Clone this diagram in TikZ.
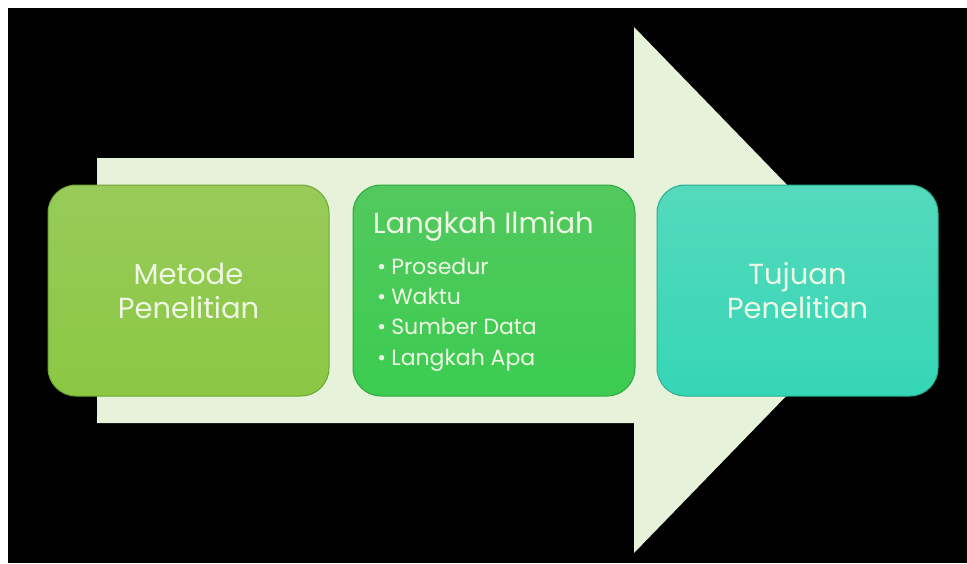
\documentclass[tikz,border=0pt]{standalone}
\usepackage{fontspec}
\setmainfont{Poppins}
\definecolor{arrowfill}{HTML}{E6F3DA}
\definecolor{boxAtop}{HTML}{98CB5A}
\definecolor{boxAbot}{HTML}{8BC843}
\definecolor{boxAline}{HTML}{6FA536}
\definecolor{boxBtop}{HTML}{52C95E}
\definecolor{boxBbot}{HTML}{3CCC51}
\definecolor{boxBline}{HTML}{2FA640}
\definecolor{boxCtop}{HTML}{55D9BC}
\definecolor{boxCbot}{HTML}{35D6B6}
\definecolor{boxCline}{HTML}{27AD92}
\definecolor{txt}{HTML}{EEF7E4}
\tikzset{
  x=1pt, y=-1pt,
  card/.style={rounded corners=28pt, line width=1pt},
  bigtext/.style={text=txt, font=\fontsize{29}{34}\selectfont, align=center},
  titletext/.style={text=txt, font=\fontsize{29}{36}\selectfont, anchor=base west, inner sep=0pt},
  itemtext/.style={text=txt, font=\fontsize{22}{26}\selectfont, anchor=base west, inner sep=0pt},
}
\begin{document}
\begin{tikzpicture}
\useasboundingbox (0,0) rectangle (967,563);
\fill[white] (0,0) rectangle (967,563);
\fill[black] (8,8) rectangle (967,563);
% big arrow
\fill[arrowfill] (97,158) -- (634,158) -- (634,27) -- (889,290) -- (634,553) -- (634,423) -- (97,423) -- cycle;
% boxes
\shade[card, top color=boxAtop, bottom color=boxAbot, draw=boxAline] (48,185) rectangle (329,396);
\shade[card, top color=boxBtop, bottom color=boxBbot, draw=boxBline] (353,185) rectangle (635,396);
\shade[card, top color=boxCtop, bottom color=boxCbot, draw=boxCline] (657,185) rectangle (938,396);
\coordinate (b1) at (188.5,291);
\coordinate (b3) at (797.5,291);
\node[bigtext] (t1) at (b1) {Metode\\Penelitian};
\node[bigtext] (t3) at (b3) {Tujuan\\Penelitian};
\node[titletext] (t2) at (373,233) {Langkah Ilmiah};
\node[itemtext] (i1) at (377,274) {•\hspace{5pt}Prosedur};
\node[itemtext] (i2) at (377,304) {•\hspace{5pt}Waktu};
\node[itemtext] (i3) at (377,334) {•\hspace{5pt}Sumber Data};
\node[itemtext] (i4) at (377,365) {•\hspace{5pt}Langkah Apa};
\end{tikzpicture}
\end{document}
